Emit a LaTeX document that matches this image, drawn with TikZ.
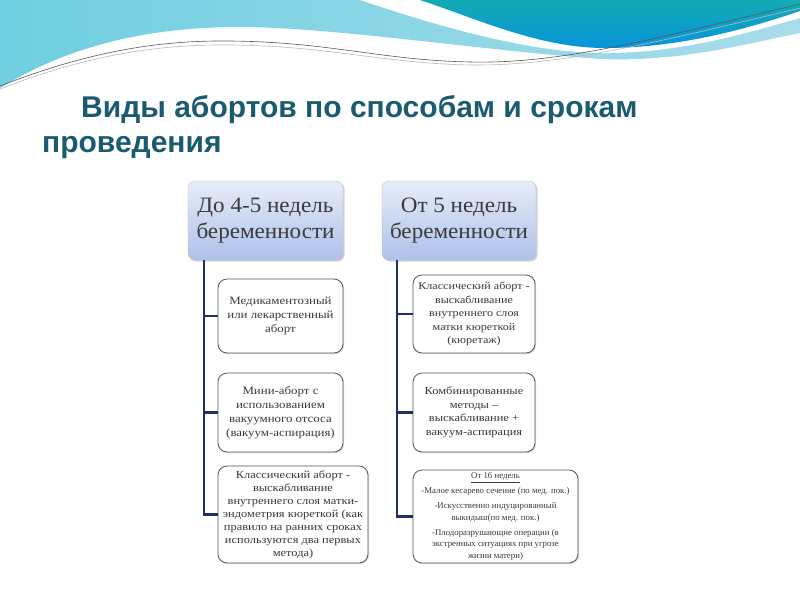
\documentclass[tikz,border=0pt]{standalone}
\usepackage{fontspec}
\setmainfont{Liberation Serif}
\newfontfamily\titlefont{Liberation Sans}
\newfontfamily\boxfont{Liberation Serif}[FakeStretch=1.15]
\newfontfamily\hdfont{Liberation Serif}[FakeStretch=1.05]
\usetikzlibrary{shadows}
\definecolor{titlecol}{HTML}{1A5B6F}
\definecolor{conncol}{HTML}{1F3068}
\definecolor{boxline}{HTML}{4A5560}
\definecolor{txtcol}{HTML}{3A3A3A}
\definecolor{hdtop}{HTML}{E6ECF8}
\definecolor{hdbot}{HTML}{AFC1EA}
\definecolor{lbL}{HTML}{6FCFE0}
\definecolor{lbR}{HTML}{A9DCEB}
\definecolor{dkT}{HTML}{12AAB4}
\definecolor{dkB}{HTML}{0895DA}
\tikzset{
  hdbox/.style={draw=gray!50, rounded corners=7pt, top color=hdtop, bottom color=hdbot,
    minimum width=#1, minimum height=79pt, align=center, text=txtcol,
    font=\hdfont\fontsize{22}{26}\selectfont, inner sep=2pt,
    drop shadow={opacity=0.35, shadow xshift=1.5pt, shadow yshift=-1.5pt}},
  chbox/.style={draw=boxline, line width=0.8pt, rounded corners=9pt, fill=white,
    align=center, text=txtcol, font=\boxfont\fontsize{11.2}{13.8}\selectfont, inner sep=1pt,
    drop shadow={opacity=0.25, shadow xshift=1.2pt, shadow yshift=-1.2pt}},
  conn/.style={draw=conncol, line width=2.2pt},
  swoosh/.style={draw=gray!70!black, line width=0.6pt},
  ttl/.style={text=titlecol, font=\titlefont\bfseries\fontsize{30}{35}\selectfont, inner sep=0pt}
}
\begin{document}
\begin{tikzpicture}[x=1pt,y=-1pt]
\useasboundingbox (0,0) rectangle (800,600);
\fill[white] (0,0) rectangle (800,600);
% light blue wave
\shade[left color=lbL, right color=lbR] (0,0) -- (800,0) -- (800,33)
  .. controls (740,45) and (680,62) .. (600,59)
  .. controls (480,50) and (330,27) .. (240,27)
  .. controls (150,27) and (70,45) .. (0,88) -- cycle;
% white stripe
\fill[white] (360,0) .. controls (420,20) and (520,52) .. (600,53)
  .. controls (680,54) and (750,32) .. (800,18) -- (800,0) -- cycle;
% dark band
\shade[top color=dkT, bottom color=dkB] (420,0) .. controls (480,20) and (540,48) .. (605,48)
  .. controls (680,48) and (750,28) .. (800,11) -- (800,0) -- cycle;
% swoosh lines
\draw[swoosh] (0,86) .. controls (80,55) and (150,40) .. (230,41)
  .. controls (330,42) and (380,60) .. (470,62)
  .. controls (560,64) and (650,40) .. (800,4);
\draw[swoosh, gray!55] (0,89) .. controls (80,58) and (150,44) .. (230,45)
  .. controls (330,46) and (380,63) .. (470,65)
  .. controls (560,66) and (650,44) .. (800,8);
% title
\node[ttl, anchor=base west] (t1) at (81,117) {Виды абортов по способам и срокам};
\node[ttl, anchor=base west] (t2) at (42,152) {проведения};
% headers
\node[hdbox=155pt] (h1) at (265.5,220.5) {До 4-5 недель\\беременности};
\node[hdbox=154pt] (h2) at (459,220.5) {От 5 недель\\беременности};
% left children
\node[chbox, minimum width=125pt, minimum height=74pt] (c11) at (280.5,316)
  {Медикаментозный\\или лекарственный\\аборт};
\node[chbox, minimum width=125pt, minimum height=79pt] (c12) at (280.5,412.5)
  {Мини-аборт с\\использованием\\вакуумного отсоса\\(вакуум-аспирация)};
\node[chbox, minimum width=150pt, minimum height=97pt, font=\boxfont\fontsize{10.8}{13}\selectfont] (c13) at (293,514.5)
  {Классический аборт -\\выскабливание\\внутреннего слоя матки-\\эндометрия кюреткой (как\\правило на ранних сроках\\используются два первых\\метода)};
% right children
\node[chbox, minimum width=122pt, minimum height=78pt, font=\boxfont\fontsize{10.5}{13.5}\selectfont] (c21) at (474,314)
  {Классический аборт -\\выскабливание\\внутреннего слоя\\матки кюреткой\\(кюретаж)};
\node[chbox, minimum width=122pt, minimum height=79pt, font=\boxfont\fontsize{10.8}{13.5}\selectfont] (c22) at (474,412.5)
  {Комбинированные\\методы –\\выскабливание +\\вакуум-аспирация};
\node[chbox, minimum width=165pt, minimum height=93pt, font=\fontsize{8.8}{11.5}\selectfont] (c23) at (495.5,516.5)
  {\underline{От 16 недель}\\[3.5pt]-Малое кесарево сечение (по мед. пок.)\\[3.5pt]-Искусственно индуцированный\\выкидыш(по мед. пок.)\\[3.5pt]-Плодоразрушающие операции (в\\экстренных ситуациях при угрозе\\жизни матери)};
% connectors
\coordinate (lt) at (204,260);
\coordinate (rt) at (397,260);
\draw[conn] (lt) |- (c13.west);
\draw[conn] (lt |- c11.west) -- (c11.west);
\draw[conn] (lt |- c12.west) -- (c12.west);
\draw[conn] (rt) |- (c23.west);
\draw[conn] (rt |- c21.west) -- (c21.west);
\draw[conn] (rt |- c22.west) -- (c22.west);
\end{tikzpicture}
\end{document}
